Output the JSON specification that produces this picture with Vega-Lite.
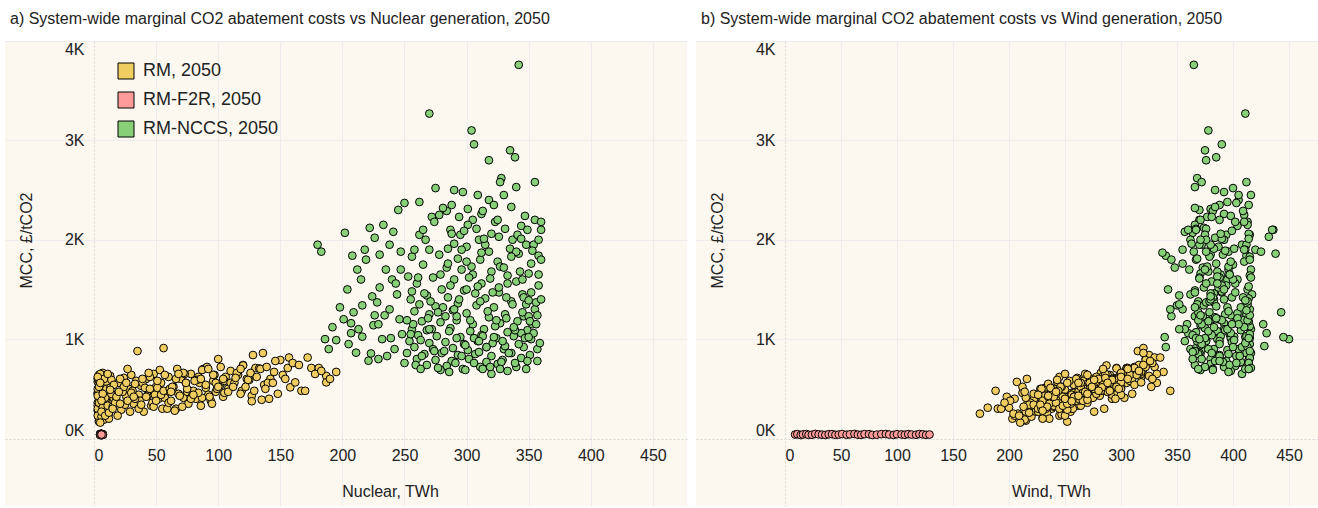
{
  "$schema": "https://vega.github.io/schema/vega-lite/v6.json",
  "background": "white",
  "padding": {"left": 5, "top": 11, "right": 0, "bottom": 2},
  "spacing": 9,
  "config": {
    "font": "Liberation Sans",
    "view": {"fill": "#fcf8f0", "stroke": null},
    "title": {"anchor": "start", "frame": "group", "fontSize": 16, "fontWeight": "normal", "color": "#222", "dx": 5, "offset": 14, "baseline": "bottom"},
    "axis": {
      "domain": false, "ticks": false, "grid": true,
      "gridColor": {"condition": {"test": "datum.value === 0", "value": "#d6d6d6"}, "value": "#ececec"},
      "gridDash": {"condition": {"test": "datum.value === 0", "value": [2, 2]}, "value": []},
      "labelFontSize": 16, "labelColor": "#222", "labelFlush": false,
      "titleFontSize": 16, "titleFontWeight": "normal", "titleColor": "#222"
    }
  },
  "resolve": {"scale": {"x": "independent", "y": "independent"}, "legend": {"color": "independent"}},
  "datasets": {
    "pts": [
      {"scenario":"RM, 2050","nuclear":4,"wind":215,"mcc":180},
      {"scenario":"RM, 2050","nuclear":5,"wind":230,"mcc":210},
      {"scenario":"RM, 2050","nuclear":6,"wind":208,"mcc":250},
      {"scenario":"RM, 2050","nuclear":3,"wind":222,"mcc":280},
      {"scenario":"RM, 2050","nuclear":7,"wind":245,"mcc":230},
      {"scenario":"RM, 2050","nuclear":4,"wind":200,"mcc":310},
      {"scenario":"RM, 2050","nuclear":8,"wind":238,"mcc":300},
      {"scenario":"RM, 2050","nuclear":5,"wind":255,"mcc":270},
      {"scenario":"RM, 2050","nuclear":9,"wind":216,"mcc":340},
      {"scenario":"RM, 2050","nuclear":6,"wind":262,"mcc":330},
      {"scenario":"RM, 2050","nuclear":3,"wind":230,"mcc":360},
      {"scenario":"RM, 2050","nuclear":10,"wind":248,"mcc":380},
      {"scenario":"RM, 2050","nuclear":5,"wind":205,"mcc":400},
      {"scenario":"RM, 2050","nuclear":7,"wind":270,"mcc":360},
      {"scenario":"RM, 2050","nuclear":4,"wind":225,"mcc":420},
      {"scenario":"RM, 2050","nuclear":11,"wind":258,"mcc":410},
      {"scenario":"RM, 2050","nuclear":6,"wind":240,"mcc":440},
      {"scenario":"RM, 2050","nuclear":8,"wind":276,"mcc":430},
      {"scenario":"RM, 2050","nuclear":3,"wind":212,"mcc":460},
      {"scenario":"RM, 2050","nuclear":9,"wind":265,"mcc":470},
      {"scenario":"RM, 2050","nuclear":5,"wind":250,"mcc":490},
      {"scenario":"RM, 2050","nuclear":12,"wind":283,"mcc":480},
      {"scenario":"RM, 2050","nuclear":7,"wind":232,"mcc":510},
      {"scenario":"RM, 2050","nuclear":4,"wind":270,"mcc":520},
      {"scenario":"RM, 2050","nuclear":10,"wind":292,"mcc":500},
      {"scenario":"RM, 2050","nuclear":6,"wind":258,"mcc":540},
      {"scenario":"RM, 2050","nuclear":8,"wind":288,"mcc":550},
      {"scenario":"RM, 2050","nuclear":3,"wind":243,"mcc":570},
      {"scenario":"RM, 2050","nuclear":11,"wind":300,"mcc":580},
      {"scenario":"RM, 2050","nuclear":5,"wind":275,"mcc":600},
      {"scenario":"RM, 2050","nuclear":9,"wind":310,"mcc":620},
      {"scenario":"RM, 2050","nuclear":4,"wind":285,"mcc":640},
      {"scenario":"RM, 2050","nuclear":7,"wind":262,"mcc":590},
      {"scenario":"RM, 2050","nuclear":6,"wind":296,"mcc":540},
      {"scenario":"RM, 2050","nuclear":3,"wind":218,"mcc":330},
      {"scenario":"RM, 2050","nuclear":10,"wind":234,"mcc":260},
      {"scenario":"RM, 2050","nuclear":8,"wind":252,"mcc":350},
      {"scenario":"RM, 2050","nuclear":12,"wind":268,"mcc":400},
      {"scenario":"RM, 2050","nuclear":5,"wind":226,"mcc":290},
      {"scenario":"RM, 2050","nuclear":9,"wind":280,"mcc":450},
      {"scenario":"RM, 2050","nuclear":4,"wind":247,"mcc":240},
      {"scenario":"RM, 2050","nuclear":7,"wind":290,"mcc":610},
      {"scenario":"RM, 2050","nuclear":11,"wind":240,"mcc":320},
      {"scenario":"RM, 2050","nuclear":13,"wind":305,"mcc":560},
      {"scenario":"RM, 2050","nuclear":6,"wind":271,"mcc":480},
      {"scenario":"RM, 2050","nuclear":3,"wind":190,"mcc":300},
      {"scenario":"RM, 2050","nuclear":5,"wind":198,"mcc":420},
      {"scenario":"RM, 2050","nuclear":8,"wind":212,"mcc":520},
      {"scenario":"RM, 2050","nuclear":4,"wind":236,"mcc":200},
      {"scenario":"RM, 2050","nuclear":9,"wind":256,"mcc":300},
      {"scenario":"RM, 2050","nuclear":6,"wind":174,"mcc":250},
      {"scenario":"RM, 2050","nuclear":9,"wind":181,"mcc":310},
      {"scenario":"RM, 2050","nuclear":5,"wind":188,"mcc":480},
      {"scenario":"RM, 2050","nuclear":12,"wind":193,"mcc":300},
      {"scenario":"RM, 2050","nuclear":7,"wind":203,"mcc":200},
      {"scenario":"RM, 2050","nuclear":14,"wind":207,"mcc":570},
      {"scenario":"RM, 2050","nuclear":3,"wind":216,"mcc":600},
      {"scenario":"RM, 2050","nuclear":4,"wind":245,"mcc":620},
      {"scenario":"RM, 2050","nuclear":6,"wind":228,"mcc":500},
      {"scenario":"RM, 2050","nuclear":10,"wind":222,"mcc":390},
      {"scenario":"RM, 2050","nuclear":3,"wind":260,"mcc":450},
      {"scenario":"RM, 2050","nuclear":8,"wind":266,"mcc":580},
      {"scenario":"RM, 2050","nuclear":5,"wind":240,"mcc":350},
      {"scenario":"RM, 2050","nuclear":11,"wind":215,"mcc":270},
      {"scenario":"RM, 2050","nuclear":7,"wind":282,"mcc":660},
      {"scenario":"RM, 2050","nuclear":4,"wind":252,"mcc":170},
      {"scenario":"RM, 2050","nuclear":9,"wind":235,"mcc":550},
      {"scenario":"RM, 2050","nuclear":3,"wind":205,"mcc":230},
      {"scenario":"RM, 2050","nuclear":4,"wind":219,"mcc":360},
      {"scenario":"RM, 2050","nuclear":5,"wind":233,"mcc":440},
      {"scenario":"RM, 2050","nuclear":6,"wind":247,"mcc":520},
      {"scenario":"RM, 2050","nuclear":7,"wind":261,"mcc":610},
      {"scenario":"RM, 2050","nuclear":8,"wind":214,"mcc":190},
      {"scenario":"RM, 2050","nuclear":9,"wind":228,"mcc":280},
      {"scenario":"RM, 2050","nuclear":10,"wind":242,"mcc":370},
      {"scenario":"RM, 2050","nuclear":11,"wind":256,"mcc":460},
      {"scenario":"RM, 2050","nuclear":12,"wind":270,"mcc":550},
      {"scenario":"RM, 2050","nuclear":13,"wind":284,"mcc":630},
      {"scenario":"RM, 2050","nuclear":3,"wind":240,"mcc":500},
      {"scenario":"RM, 2050","nuclear":4,"wind":254,"mcc":580},
      {"scenario":"RM, 2050","nuclear":5,"wind":268,"mcc":650},
      {"scenario":"RM, 2050","nuclear":6,"wind":220,"mcc":220},
      {"scenario":"RM, 2050","nuclear":7,"wind":234,"mcc":310},
      {"scenario":"RM, 2050","nuclear":8,"wind":248,"mcc":400},
      {"scenario":"RM, 2050","nuclear":9,"wind":262,"mcc":490},
      {"scenario":"RM, 2050","nuclear":10,"wind":276,"mcc":570},
      {"scenario":"RM, 2050","nuclear":11,"wind":290,"mcc":640},
      {"scenario":"RM, 2050","nuclear":12,"wind":204,"mcc":250},
      {"scenario":"RM, 2050","nuclear":13,"wind":218,"mcc":340},
      {"scenario":"RM, 2050","nuclear":3,"wind":232,"mcc":430},
      {"scenario":"RM, 2050","nuclear":4,"wind":246,"mcc":520},
      {"scenario":"RM, 2050","nuclear":5,"wind":210,"mcc":160},
      {"scenario":"RM, 2050","nuclear":6,"wind":224,"mcc":270},
      {"scenario":"RM, 2050","nuclear":7,"wind":238,"mcc":380},
      {"scenario":"RM, 2050","nuclear":8,"wind":300,"mcc":600},
      {"scenario":"RM, 2050","nuclear":9,"wind":215,"mcc":410},
      {"scenario":"RM, 2050","nuclear":10,"wind":229,"mcc":500},
      {"scenario":"RM, 2050","nuclear":14,"wind":243,"mcc":590},
      {"scenario":"RM, 2050","nuclear":14,"wind":257,"mcc":300},
      {"scenario":"RM, 2050","nuclear":12,"wind":230,"mcc":200},
      {"scenario":"RM, 2050","nuclear":3,"wind":278,"mcc":620},
      {"scenario":"RM, 2050","nuclear":5,"wind":286,"mcc":560},
      {"scenario":"RM, 2050","nuclear":7,"wind":222,"mcc":450},
      {"scenario":"RM, 2050","nuclear":9,"wind":250,"mcc":230},
      {"scenario":"RM, 2050","nuclear":11,"wind":264,"mcc":330},
      {"scenario":"RM, 2050","nuclear":13,"wind":292,"mcc":510},
      {"scenario":"RM, 2050","nuclear":6,"wind":201,"mcc":380},
      {"scenario":"RM, 2050","nuclear":12,"wind":218,"mcc":260},
      {"scenario":"RM, 2050","nuclear":15,"wind":245,"mcc":320},
      {"scenario":"RM, 2050","nuclear":14,"wind":262,"mcc":450},
      {"scenario":"RM, 2050","nuclear":18,"wind":230,"mcc":380},
      {"scenario":"RM, 2050","nuclear":20,"wind":280,"mcc":560},
      {"scenario":"RM, 2050","nuclear":22,"wind":252,"mcc":290},
      {"scenario":"RM, 2050","nuclear":24,"wind":296,"mcc":610},
      {"scenario":"RM, 2050","nuclear":26,"wind":235,"mcc":420},
      {"scenario":"RM, 2050","nuclear":28,"wind":270,"mcc":500},
      {"scenario":"RM, 2050","nuclear":30,"wind":288,"mcc":640},
      {"scenario":"RM, 2050","nuclear":32,"wind":247,"mcc":350},
      {"scenario":"RM, 2050","nuclear":34,"wind":300,"mcc":580},
      {"scenario":"RM, 2050","nuclear":35,"wind":315,"mcc":880},
      {"scenario":"RM, 2050","nuclear":36,"wind":258,"mcc":440},
      {"scenario":"RM, 2050","nuclear":38,"wind":276,"mcc":530},
      {"scenario":"RM, 2050","nuclear":40,"wind":226,"mcc":270},
      {"scenario":"RM, 2050","nuclear":42,"wind":292,"mcc":600},
      {"scenario":"RM, 2050","nuclear":44,"wind":264,"mcc":470},
      {"scenario":"RM, 2050","nuclear":46,"wind":240,"mcc":330},
      {"scenario":"RM, 2050","nuclear":48,"wind":305,"mcc":650},
      {"scenario":"RM, 2050","nuclear":50,"wind":272,"mcc":520},
      {"scenario":"RM, 2050","nuclear":52,"wind":250,"mcc":400},
      {"scenario":"RM, 2050","nuclear":54,"wind":286,"mcc":560},
      {"scenario":"RM, 2050","nuclear":55,"wind":233,"mcc":300},
      {"scenario":"RM, 2050","nuclear":56,"wind":320,"mcc":910},
      {"scenario":"RM, 2050","nuclear":58,"wind":262,"mcc":460},
      {"scenario":"RM, 2050","nuclear":60,"wind":298,"mcc":620},
      {"scenario":"RM, 2050","nuclear":16,"wind":283,"mcc":540},
      {"scenario":"RM, 2050","nuclear":19,"wind":209,"mcc":230},
      {"scenario":"RM, 2050","nuclear":25,"wind":222,"mcc":340},
      {"scenario":"RM, 2050","nuclear":31,"wind":268,"mcc":480},
      {"scenario":"RM, 2050","nuclear":37,"wind":243,"mcc":380},
      {"scenario":"RM, 2050","nuclear":43,"wind":281,"mcc":430},
      {"scenario":"RM, 2050","nuclear":47,"wind":255,"mcc":360},
      {"scenario":"RM, 2050","nuclear":53,"wind":310,"mcc":690},
      {"scenario":"RM, 2050","nuclear":57,"wind":275,"mcc":410},
      {"scenario":"RM, 2050","nuclear":13,"wind":238,"mcc":490},
      {"scenario":"RM, 2050","nuclear":21,"wind":260,"mcc":600},
      {"scenario":"RM, 2050","nuclear":27,"wind":305,"mcc":700},
      {"scenario":"RM, 2050","nuclear":33,"wind":292,"mcc":400},
      {"scenario":"RM, 2050","nuclear":39,"wind":252,"mcc":560},
      {"scenario":"RM, 2050","nuclear":45,"wind":318,"mcc":620},
      {"scenario":"RM, 2050","nuclear":49,"wind":226,"mcc":440},
      {"scenario":"RM, 2050","nuclear":51,"wind":300,"mcc":510},
      {"scenario":"RM, 2050","nuclear":59,"wind":285,"mcc":300},
      {"scenario":"RM, 2050","nuclear":17,"wind":196,"mcc":360},
      {"scenario":"RM, 2050","nuclear":23,"wind":214,"mcc":470},
      {"scenario":"RM, 2050","nuclear":29,"wind":276,"mcc":270},
      {"scenario":"RM, 2050","nuclear":41,"wind":237,"mcc":510},
      {"scenario":"RM, 2050","nuclear":11,"wind":250,"mcc":650},
      {"scenario":"RM, 2050","nuclear":15,"wind":226,"mcc":300},
      {"scenario":"RM, 2050","nuclear":18,"wind":250,"mcc":420},
      {"scenario":"RM, 2050","nuclear":21,"wind":236,"mcc":350},
      {"scenario":"RM, 2050","nuclear":24,"wind":266,"mcc":520},
      {"scenario":"RM, 2050","nuclear":27,"wind":244,"mcc":380},
      {"scenario":"RM, 2050","nuclear":30,"wind":258,"mcc":460},
      {"scenario":"RM, 2050","nuclear":33,"wind":276,"mcc":550},
      {"scenario":"RM, 2050","nuclear":36,"wind":229,"mcc":300},
      {"scenario":"RM, 2050","nuclear":39,"wind":288,"mcc":600},
      {"scenario":"RM, 2050","nuclear":42,"wind":248,"mcc":420},
      {"scenario":"RM, 2050","nuclear":45,"wind":270,"mcc":500},
      {"scenario":"RM, 2050","nuclear":48,"wind":234,"mcc":320},
      {"scenario":"RM, 2050","nuclear":51,"wind":282,"mcc":580},
      {"scenario":"RM, 2050","nuclear":54,"wind":256,"mcc":440},
      {"scenario":"RM, 2050","nuclear":57,"wind":300,"mcc":640},
      {"scenario":"RM, 2050","nuclear":60,"wind":242,"mcc":360},
      {"scenario":"RM, 2050","nuclear":20,"wind":262,"mcc":470},
      {"scenario":"RM, 2050","nuclear":26,"wind":280,"mcc":560},
      {"scenario":"RM, 2050","nuclear":32,"wind":240,"mcc":420},
      {"scenario":"RM, 2050","nuclear":38,"wind":228,"mcc":340},
      {"scenario":"RM, 2050","nuclear":44,"wind":300,"mcc":660},
      {"scenario":"RM, 2050","nuclear":50,"wind":262,"mcc":380},
      {"scenario":"RM, 2050","nuclear":56,"wind":244,"mcc":480},
      {"scenario":"RM, 2050","nuclear":62,"wind":260,"mcc":380},
      {"scenario":"RM, 2050","nuclear":64,"wind":290,"mcc":520},
      {"scenario":"RM, 2050","nuclear":66,"wind":245,"mcc":300},
      {"scenario":"RM, 2050","nuclear":68,"wind":278,"mcc":450},
      {"scenario":"RM, 2050","nuclear":70,"wind":305,"mcc":600},
      {"scenario":"RM, 2050","nuclear":72,"wind":268,"mcc":410},
      {"scenario":"RM, 2050","nuclear":74,"wind":295,"mcc":560},
      {"scenario":"RM, 2050","nuclear":76,"wind":255,"mcc":350},
      {"scenario":"RM, 2050","nuclear":78,"wind":312,"mcc":650},
      {"scenario":"RM, 2050","nuclear":80,"wind":284,"mcc":480},
      {"scenario":"RM, 2050","nuclear":82,"wind":262,"mcc":400},
      {"scenario":"RM, 2050","nuclear":84,"wind":300,"mcc":620},
      {"scenario":"RM, 2050","nuclear":86,"wind":248,"mcc":330},
      {"scenario":"RM, 2050","nuclear":88,"wind":318,"mcc":700},
      {"scenario":"RM, 2050","nuclear":90,"wind":276,"mcc":510},
      {"scenario":"RM, 2050","nuclear":92,"wind":292,"mcc":440},
      {"scenario":"RM, 2050","nuclear":94,"wind":266,"mcc":380},
      {"scenario":"RM, 2050","nuclear":96,"wind":308,"mcc":580},
      {"scenario":"RM, 2050","nuclear":98,"wind":288,"mcc":470},
      {"scenario":"RM, 2050","nuclear":100,"wind":322,"mcc":800},
      {"scenario":"RM, 2050","nuclear":102,"wind":280,"mcc":550},
      {"scenario":"RM, 2050","nuclear":104,"wind":258,"mcc":420},
      {"scenario":"RM, 2050","nuclear":106,"wind":300,"mcc":620},
      {"scenario":"RM, 2050","nuclear":108,"wind":285,"mcc":500},
      {"scenario":"RM, 2050","nuclear":110,"wind":314,"mcc":680},
      {"scenario":"RM, 2050","nuclear":65,"wind":230,"mcc":280},
      {"scenario":"RM, 2050","nuclear":75,"wind":242,"mcc":470},
      {"scenario":"RM, 2050","nuclear":85,"wind":272,"mcc":560},
      {"scenario":"RM, 2050","nuclear":95,"wind":252,"mcc":350},
      {"scenario":"RM, 2050","nuclear":105,"wind":297,"mcc":460},
      {"scenario":"RM, 2050","nuclear":67,"wind":320,"mcc":700},
      {"scenario":"RM, 2050","nuclear":79,"wind":235,"mcc":430},
      {"scenario":"RM, 2050","nuclear":91,"wind":330,"mcc":720},
      {"scenario":"RM, 2050","nuclear":71,"wind":213,"mcc":320},
      {"scenario":"RM, 2050","nuclear":83,"wind":282,"mcc":590},
      {"scenario":"RM, 2050","nuclear":97,"wind":270,"mcc":640},
      {"scenario":"RM, 2050","nuclear":61,"wind":300,"mcc":500},
      {"scenario":"RM, 2050","nuclear":73,"wind":286,"mcc":650},
      {"scenario":"RM, 2050","nuclear":87,"wind":303,"mcc":410},
      {"scenario":"RM, 2050","nuclear":101,"wind":264,"mcc":520},
      {"scenario":"RM, 2050","nuclear":63,"wind":276,"mcc":520},
      {"scenario":"RM, 2050","nuclear":66,"wind":292,"mcc":600},
      {"scenario":"RM, 2050","nuclear":69,"wind":260,"mcc":430},
      {"scenario":"RM, 2050","nuclear":72,"wind":306,"mcc":660},
      {"scenario":"RM, 2050","nuclear":75,"wind":272,"mcc":500},
      {"scenario":"RM, 2050","nuclear":78,"wind":250,"mcc":400},
      {"scenario":"RM, 2050","nuclear":81,"wind":294,"mcc":580},
      {"scenario":"RM, 2050","nuclear":84,"wind":266,"mcc":460},
      {"scenario":"RM, 2050","nuclear":87,"wind":310,"mcc":690},
      {"scenario":"RM, 2050","nuclear":90,"wind":284,"mcc":540},
      {"scenario":"RM, 2050","nuclear":93,"wind":258,"mcc":420},
      {"scenario":"RM, 2050","nuclear":96,"wind":300,"mcc":640},
      {"scenario":"RM, 2050","nuclear":99,"wind":276,"mcc":500},
      {"scenario":"RM, 2050","nuclear":102,"wind":312,"mcc":720},
      {"scenario":"RM, 2050","nuclear":105,"wind":290,"mcc":580},
      {"scenario":"RM, 2050","nuclear":108,"wind":268,"mcc":470},
      {"scenario":"RM, 2050","nuclear":62,"wind":288,"mcc":470},
      {"scenario":"RM, 2050","nuclear":68,"wind":318,"mcc":650},
      {"scenario":"RM, 2050","nuclear":74,"wind":264,"mcc":560},
      {"scenario":"RM, 2050","nuclear":80,"wind":300,"mcc":440},
      {"scenario":"RM, 2050","nuclear":86,"wind":280,"mcc":600},
      {"scenario":"RM, 2050","nuclear":92,"wind":316,"mcc":700},
      {"scenario":"RM, 2050","nuclear":98,"wind":262,"mcc":560},
      {"scenario":"RM, 2050","nuclear":104,"wind":310,"mcc":600},
      {"scenario":"RM, 2050","nuclear":110,"wind":296,"mcc":560},
      {"scenario":"RM, 2050","nuclear":113,"wind":290,"mcc":560},
      {"scenario":"RM, 2050","nuclear":116,"wind":308,"mcc":640},
      {"scenario":"RM, 2050","nuclear":119,"wind":282,"mcc":480},
      {"scenario":"RM, 2050","nuclear":120,"wind":316,"mcc":740},
      {"scenario":"RM, 2050","nuclear":123,"wind":298,"mcc":600},
      {"scenario":"RM, 2050","nuclear":125,"wind":276,"mcc":590},
      {"scenario":"RM, 2050","nuclear":127,"wind":262,"mcc":430},
      {"scenario":"RM, 2050","nuclear":128,"wind":325,"mcc":840},
      {"scenario":"RM, 2050","nuclear":130,"wind":305,"mcc":710},
      {"scenario":"RM, 2050","nuclear":127,"wind":256,"mcc":375},
      {"scenario":"RM, 2050","nuclear":135,"wind":270,"mcc":390},
      {"scenario":"RM, 2050","nuclear":136,"wind":320,"mcc":860},
      {"scenario":"RM, 2050","nuclear":137,"wind":312,"mcc":540},
      {"scenario":"RM, 2050","nuclear":141,"wind":295,"mcc":400},
      {"scenario":"RM, 2050","nuclear":142,"wind":302,"mcc":600},
      {"scenario":"RM, 2050","nuclear":145,"wind":318,"mcc":670},
      {"scenario":"RM, 2050","nuclear":150,"wind":322,"mcc":790},
      {"scenario":"RM, 2050","nuclear":156,"wind":296,"mcc":710},
      {"scenario":"RM, 2050","nuclear":158,"wind":283,"mcc":515},
      {"scenario":"RM, 2050","nuclear":162,"wind":300,"mcc":565},
      {"scenario":"RM, 2050","nuclear":157,"wind":330,"mcc":815},
      {"scenario":"RM, 2050","nuclear":167,"wind":290,"mcc":480},
      {"scenario":"RM, 2050","nuclear":172,"wind":335,"mcc":815},
      {"scenario":"RM, 2050","nuclear":175,"wind":312,"mcc":710},
      {"scenario":"RM, 2050","nuclear":181,"wind":306,"mcc":710},
      {"scenario":"RM, 2050","nuclear":187,"wind":325,"mcc":630},
      {"scenario":"RM, 2050","nuclear":195,"wind":338,"mcc":670},
      {"scenario":"RM, 2050","nuclear":187,"wind":318,"mcc":565},
      {"scenario":"RM, 2050","nuclear":120,"wind":287,"mcc":735},
      {"scenario":"RM, 2050","nuclear":133,"wind":296,"mcc":705},
      {"scenario":"RM, 2050","nuclear":134,"wind":284,"mcc":700},
      {"scenario":"RM, 2050","nuclear":124,"wind":292,"mcc":590},
      {"scenario":"RM, 2050","nuclear":115,"wind":300,"mcc":660},
      {"scenario":"RM, 2050","nuclear":112,"wind":274,"mcc":520},
      {"scenario":"RM, 2050","nuclear":148,"wind":310,"mcc":450},
      {"scenario":"RM, 2050","nuclear":160,"wind":328,"mcc":760},
      {"scenario":"RM, 2050","nuclear":170,"wind":344,"mcc":480},
      {"scenario":"RM, 2050","nuclear":140,"wind":332,"mcc":560},
      {"scenario":"RM, 2050","nuclear":100,"wind":327,"mcc":520},
      {"scenario":"RM, 2050","nuclear":114,"wind":286,"mcc":610},
      {"scenario":"RM, 2050","nuclear":118,"wind":306,"mcc":700},
      {"scenario":"RM, 2050","nuclear":122,"wind":296,"mcc":520},
      {"scenario":"RM, 2050","nuclear":126,"wind":316,"mcc":660},
      {"scenario":"RM, 2050","nuclear":131,"wind":300,"mcc":620},
      {"scenario":"RM, 2050","nuclear":139,"wind":322,"mcc":720},
      {"scenario":"RM, 2050","nuclear":144,"wind":288,"mcc":560},
      {"scenario":"RM, 2050","nuclear":146,"wind":326,"mcc":780},
      {"scenario":"RM, 2050","nuclear":152,"wind":314,"mcc":640},
      {"scenario":"RM, 2050","nuclear":154,"wind":306,"mcc":600},
      {"scenario":"RM, 2050","nuclear":165,"wind":320,"mcc":740},
      {"scenario":"RM, 2050","nuclear":178,"wind":332,"mcc":650},
      {"scenario":"RM, 2050","nuclear":183,"wind":316,"mcc":680},
      {"scenario":"RM, 2050","nuclear":190,"wind":328,"mcc":600},
      {"scenario":"RM, 2050","nuclear":118,"wind":270,"mcc":450},
      {"scenario":"RM, 2050","nuclear":129,"wind":280,"mcc":480},
      {"scenario":"RM, 2050","nuclear":138,"wind":298,"mcc":500},
      {"scenario":"RM-F2R, 2050","nuclear":6,"wind":9,"mcc":40},
      {"scenario":"RM-F2R, 2050","nuclear":5,"wind":11,"mcc":44},
      {"scenario":"RM-F2R, 2050","nuclear":5,"wind":14,"mcc":35},
      {"scenario":"RM-F2R, 2050","nuclear":6,"wind":16,"mcc":41},
      {"scenario":"RM-F2R, 2050","nuclear":6,"wind":19,"mcc":45},
      {"scenario":"RM-F2R, 2050","nuclear":7,"wind":21,"mcc":37},
      {"scenario":"RM-F2R, 2050","nuclear":7,"wind":24,"mcc":38},
      {"scenario":"RM-F2R, 2050","nuclear":6,"wind":27,"mcc":46},
      {"scenario":"RM-F2R, 2050","nuclear":6,"wind":30,"mcc":42},
      {"scenario":"RM-F2R, 2050","nuclear":5,"wind":33,"mcc":39},
      {"scenario":"RM-F2R, 2050","nuclear":5,"wind":36,"mcc":36},
      {"scenario":"RM-F2R, 2050","nuclear":6,"wind":39,"mcc":43},
      {"scenario":"RM-F2R, 2050","nuclear":6,"wind":42,"mcc":44},
      {"scenario":"RM-F2R, 2050","nuclear":7,"wind":45,"mcc":37},
      {"scenario":"RM-F2R, 2050","nuclear":7,"wind":48,"mcc":40},
      {"scenario":"RM-F2R, 2050","nuclear":6,"wind":51,"mcc":45},
      {"scenario":"RM-F2R, 2050","nuclear":6,"wind":55,"mcc":38},
      {"scenario":"RM-F2R, 2050","nuclear":5,"wind":58,"mcc":42},
      {"scenario":"RM-F2R, 2050","nuclear":5,"wind":62,"mcc":46},
      {"scenario":"RM-F2R, 2050","nuclear":6,"wind":65,"mcc":39},
      {"scenario":"RM-F2R, 2050","nuclear":6,"wind":68,"mcc":37},
      {"scenario":"RM-F2R, 2050","nuclear":7,"wind":71,"mcc":44},
      {"scenario":"RM-F2R, 2050","nuclear":7,"wind":75,"mcc":43},
      {"scenario":"RM-F2R, 2050","nuclear":6,"wind":78,"mcc":36},
      {"scenario":"RM-F2R, 2050","nuclear":6,"wind":82,"mcc":39},
      {"scenario":"RM-F2R, 2050","nuclear":5,"wind":86,"mcc":44},
      {"scenario":"RM-F2R, 2050","nuclear":5,"wind":90,"mcc":45},
      {"scenario":"RM-F2R, 2050","nuclear":6,"wind":93,"mcc":40},
      {"scenario":"RM-F2R, 2050","nuclear":6,"wind":97,"mcc":36},
      {"scenario":"RM-F2R, 2050","nuclear":7,"wind":100,"mcc":43},
      {"scenario":"RM-F2R, 2050","nuclear":7,"wind":104,"mcc":41},
      {"scenario":"RM-F2R, 2050","nuclear":6,"wind":107,"mcc":38},
      {"scenario":"RM-F2R, 2050","nuclear":6,"wind":110,"mcc":44},
      {"scenario":"RM-F2R, 2050","nuclear":5,"wind":113,"mcc":40},
      {"scenario":"RM-F2R, 2050","nuclear":5,"wind":117,"mcc":38},
      {"scenario":"RM-F2R, 2050","nuclear":6,"wind":120,"mcc":45},
      {"scenario":"RM-F2R, 2050","nuclear":6,"wind":123,"mcc":42},
      {"scenario":"RM-F2R, 2050","nuclear":7,"wind":126,"mcc":37},
      {"scenario":"RM-F2R, 2050","nuclear":6,"wind":129,"mcc":40},
      {"scenario":"RM-NCCS, 2050","nuclear":342,"wind":365,"mcc":3760},
      {"scenario":"RM-NCCS, 2050","nuclear":270,"wind":411,"mcc":3270},
      {"scenario":"RM-NCCS, 2050","nuclear":304,"wind":378,"mcc":3100},
      {"scenario":"RM-NCCS, 2050","nuclear":306,"wind":390,"mcc":2960},
      {"scenario":"RM-NCCS, 2050","nuclear":335,"wind":375,"mcc":2900},
      {"scenario":"RM-NCCS, 2050","nuclear":318,"wind":376,"mcc":2800},
      {"scenario":"RM-NCCS, 2050","nuclear":339,"wind":385,"mcc":2830},
      {"scenario":"RM-NCCS, 2050","nuclear":328,"wind":368,"mcc":2620},
      {"scenario":"RM-NCCS, 2050","nuclear":327,"wind":372,"mcc":2580},
      {"scenario":"RM-NCCS, 2050","nuclear":355,"wind":412,"mcc":2580},
      {"scenario":"RM-NCCS, 2050","nuclear":275,"wind":400,"mcc":2520},
      {"scenario":"RM-NCCS, 2050","nuclear":290,"wind":384,"mcc":2500},
      {"scenario":"RM-NCCS, 2050","nuclear":297,"wind":392,"mcc":2480},
      {"scenario":"RM-NCCS, 2050","nuclear":340,"wind":366,"mcc":2530},
      {"scenario":"RM-NCCS, 2050","nuclear":262,"wind":395,"mcc":2380},
      {"scenario":"RM-NCCS, 2050","nuclear":318,"wind":405,"mcc":2400},
      {"scenario":"RM-NCCS, 2050","nuclear":322,"wind":414,"mcc":2350},
      {"scenario":"RM-NCCS, 2050","nuclear":301,"wind":380,"mcc":2310},
      {"scenario":"RM-NCCS, 2050","nuclear":284,"wind":382,"mcc":2290},
      {"scenario":"RM-NCCS, 2050","nuclear":245,"wind":370,"mcc":2300},
      {"scenario":"RM-NCCS, 2050","nuclear":250,"wind":403,"mcc":2370},
      {"scenario":"RM-NCCS, 2050","nuclear":312,"wind":392,"mcc":2260},
      {"scenario":"RM-NCCS, 2050","nuclear":347,"wind":398,"mcc":2240},
      {"scenario":"RM-NCCS, 2050","nuclear":355,"wind":388,"mcc":2200},
      {"scenario":"RM-NCCS, 2050","nuclear":360,"wind":413,"mcc":2180},
      {"scenario":"RM-NCCS, 2050","nuclear":305,"wind":370,"mcc":2200},
      {"scenario":"RM-NCCS, 2050","nuclear":272,"wind":377,"mcc":2230},
      {"scenario":"RM-NCCS, 2050","nuclear":233,"wind":366,"mcc":2150},
      {"scenario":"RM-NCCS, 2050","nuclear":222,"wind":374,"mcc":2120},
      {"scenario":"RM-NCCS, 2050","nuclear":241,"wind":357,"mcc":2080},
      {"scenario":"RM-NCCS, 2050","nuclear":202,"wind":364,"mcc":2070},
      {"scenario":"RM-NCCS, 2050","nuclear":287,"wind":360,"mcc":2100},
      {"scenario":"RM-NCCS, 2050","nuclear":331,"wind":376,"mcc":2110},
      {"scenario":"RM-NCCS, 2050","nuclear":344,"wind":404,"mcc":2140},
      {"scenario":"RM-NCCS, 2050","nuclear":262,"wind":394,"mcc":2050},
      {"scenario":"RM-NCCS, 2050","nuclear":295,"wind":415,"mcc":2050},
      {"scenario":"RM-NCCS, 2050","nuclear":310,"wind":362,"mcc":2000},
      {"scenario":"RM-NCCS, 2050","nuclear":360,"wind":436,"mcc":2100},
      {"scenario":"RM-NCCS, 2050","nuclear":326,"wind":432,"mcc":2030},
      {"scenario":"RM-NCCS, 2050","nuclear":180,"wind":372,"mcc":1950},
      {"scenario":"RM-NCCS, 2050","nuclear":183,"wind":365,"mcc":1880},
      {"scenario":"RM-NCCS, 2050","nuclear":238,"wind":370,"mcc":1950},
      {"scenario":"RM-NCCS, 2050","nuclear":226,"wind":384,"mcc":2020},
      {"scenario":"RM-NCCS, 2050","nuclear":208,"wind":340,"mcc":1840},
      {"scenario":"RM-NCCS, 2050","nuclear":219,"wind":345,"mcc":1800},
      {"scenario":"RM-NCCS, 2050","nuclear":230,"wind":380,"mcc":1850},
      {"scenario":"RM-NCCS, 2050","nuclear":358,"wind":412,"mcc":1840},
      {"scenario":"RM-NCCS, 2050","nuclear":270,"wind":355,"mcc":1900},
      {"scenario":"RM-NCCS, 2050","nuclear":290,"wind":363,"mcc":1960},
      {"scenario":"RM-NCCS, 2050","nuclear":300,"wind":387,"mcc":1930},
      {"scenario":"RM-NCCS, 2050","nuclear":318,"wind":396,"mcc":1880},
      {"scenario":"RM-NCCS, 2050","nuclear":335,"wind":401,"mcc":1910},
      {"scenario":"RM-NCCS, 2050","nuclear":348,"wind":408,"mcc":1950},
      {"scenario":"RM-NCCS, 2050","nuclear":256,"wind":379,"mcc":1830},
      {"scenario":"RM-NCCS, 2050","nuclear":278,"wind":391,"mcc":1850},
      {"scenario":"RM-NCCS, 2050","nuclear":311,"wind":367,"mcc":1800},
      {"scenario":"RM-NCCS, 2050","nuclear":325,"wind":410,"mcc":1780},
      {"scenario":"RM-NCCS, 2050","nuclear":342,"wind":438,"mcc":1860},
      {"scenario":"RM-NCCS, 2050","nuclear":352,"wind":385,"mcc":1760},
      {"scenario":"RM-NCCS, 2050","nuclear":265,"wind":400,"mcc":1750},
      {"scenario":"RM-NCCS, 2050","nuclear":284,"wind":373,"mcc":1720},
      {"scenario":"RM-NCCS, 2050","nuclear":296,"wind":416,"mcc":1700},
      {"scenario":"RM-NCCS, 2050","nuclear":247,"wind":396,"mcc":1700},
      {"scenario":"RM-NCCS, 2050","nuclear":235,"wind":361,"mcc":1700},
      {"scenario":"RM-NCCS, 2050","nuclear":215,"wind":393,"mcc":1600},
      {"scenario":"RM-NCCS, 2050","nuclear":240,"wind":404,"mcc":1600},
      {"scenario":"RM-NCCS, 2050","nuclear":305,"wind":389,"mcc":1650},
      {"scenario":"RM-NCCS, 2050","nuclear":320,"wind":378,"mcc":1680},
      {"scenario":"RM-NCCS, 2050","nuclear":333,"wind":415,"mcc":1640},
      {"scenario":"RM-NCCS, 2050","nuclear":350,"wind":371,"mcc":1660},
      {"scenario":"RM-NCCS, 2050","nuclear":273,"wind":370,"mcc":1620},
      {"scenario":"RM-NCCS, 2050","nuclear":290,"wind":395,"mcc":1600},
      {"scenario":"RM-NCCS, 2050","nuclear":260,"wind":386,"mcc":1560},
      {"scenario":"RM-NCCS, 2050","nuclear":230,"wind":374,"mcc":1520},
      {"scenario":"RM-NCCS, 2050","nuclear":312,"wind":402,"mcc":1560},
      {"scenario":"RM-NCCS, 2050","nuclear":340,"wind":381,"mcc":1580},
      {"scenario":"RM-NCCS, 2050","nuclear":358,"wind":394,"mcc":1540},
      {"scenario":"RM-NCCS, 2050","nuclear":280,"wind":413,"mcc":1500},
      {"scenario":"RM-NCCS, 2050","nuclear":298,"wind":366,"mcc":1490},
      {"scenario":"RM-NCCS, 2050","nuclear":244,"wind":362,"mcc":1450},
      {"scenario":"RM-NCCS, 2050","nuclear":326,"wind":390,"mcc":1470},
      {"scenario":"RM-NCCS, 2050","nuclear":345,"wind":417,"mcc":1450},
      {"scenario":"RM-NCCS, 2050","nuclear":268,"wind":352,"mcc":1440},
      {"scenario":"RM-NCCS, 2050","nuclear":255,"wind":383,"mcc":1400},
      {"scenario":"RM-NCCS, 2050","nuclear":285,"wind":399,"mcc":1420},
      {"scenario":"RM-NCCS, 2050","nuclear":315,"wind":414,"mcc":1410},
      {"scenario":"RM-NCCS, 2050","nuclear":336,"wind":369,"mcc":1380},
      {"scenario":"RM-NCCS, 2050","nuclear":228,"wind":383,"mcc":1370},
      {"scenario":"RM-NCCS, 2050","nuclear":226,"wind":398,"mcc":1240},
      {"scenario":"RM-NCCS, 2050","nuclear":216,"wind":350,"mcc":1340},
      {"scenario":"RM-NCCS, 2050","nuclear":209,"wind":379,"mcc":1270},
      {"scenario":"RM-NCCS, 2050","nuclear":201,"wind":387,"mcc":1200},
      {"scenario":"RM-NCCS, 2050","nuclear":207,"wind":392,"mcc":1160},
      {"scenario":"RM-NCCS, 2050","nuclear":225,"wind":371,"mcc":1140},
      {"scenario":"RM-NCCS, 2050","nuclear":207,"wind":360,"mcc":1060},
      {"scenario":"RM-NCCS, 2050","nuclear":216,"wind":401,"mcc":1025},
      {"scenario":"RM-NCCS, 2050","nuclear":195,"wind":376,"mcc":990},
      {"scenario":"RM-NCCS, 2050","nuclear":189,"wind":362,"mcc":900},
      {"scenario":"RM-NCCS, 2050","nuclear":211,"wind":366,"mcc":864},
      {"scenario":"RM-NCCS, 2050","nuclear":221,"wind":389,"mcc":783},
      {"scenario":"RM-NCCS, 2050","nuclear":223,"wind":371,"mcc":856},
      {"scenario":"RM-NCCS, 2050","nuclear":238,"wind":355,"mcc":1300},
      {"scenario":"RM-NCCS, 2050","nuclear":246,"wind":381,"mcc":1200},
      {"scenario":"RM-NCCS, 2050","nuclear":248,"wind":397,"mcc":1050},
      {"scenario":"RM-NCCS, 2050","nuclear":242,"wind":372,"mcc":900},
      {"scenario":"RM-NCCS, 2050","nuclear":236,"wind":415,"mcc":830},
      {"scenario":"RM-NCCS, 2050","nuclear":250,"wind":405,"mcc":760},
      {"scenario":"RM-NCCS, 2050","nuclear":232,"wind":386,"mcc":1000},
      {"scenario":"RM-NCCS, 2050","nuclear":262,"wind":368,"mcc":1350},
      {"scenario":"RM-NCCS, 2050","nuclear":275,"wind":385,"mcc":1330},
      {"scenario":"RM-NCCS, 2050","nuclear":293,"wind":412,"mcc":1360},
      {"scenario":"RM-NCCS, 2050","nuclear":308,"wind":374,"mcc":1340},
      {"scenario":"RM-NCCS, 2050","nuclear":322,"wind":395,"mcc":1320},
      {"scenario":"RM-NCCS, 2050","nuclear":348,"wind":352,"mcc":1350},
      {"scenario":"RM-NCCS, 2050","nuclear":355,"wind":415,"mcc":1300},
      {"scenario":"RM-NCCS, 2050","nuclear":258,"wind":408,"mcc":1280},
      {"scenario":"RM-NCCS, 2050","nuclear":270,"wind":393,"mcc":1250},
      {"scenario":"RM-NCCS, 2050","nuclear":283,"wind":366,"mcc":1230},
      {"scenario":"RM-NCCS, 2050","nuclear":300,"wind":404,"mcc":1260},
      {"scenario":"RM-NCCS, 2050","nuclear":318,"wind":384,"mcc":1220},
      {"scenario":"RM-NCCS, 2050","nuclear":331,"wind":412,"mcc":1250},
      {"scenario":"RM-NCCS, 2050","nuclear":346,"wind":370,"mcc":1230},
      {"scenario":"RM-NCCS, 2050","nuclear":264,"wind":377,"mcc":1180},
      {"scenario":"RM-NCCS, 2050","nuclear":279,"wind":414,"mcc":1170},
      {"scenario":"RM-NCCS, 2050","nuclear":292,"wind":390,"mcc":1190},
      {"scenario":"RM-NCCS, 2050","nuclear":305,"wind":359,"mcc":1150},
      {"scenario":"RM-NCCS, 2050","nuclear":327,"wind":401,"mcc":1160},
      {"scenario":"RM-NCCS, 2050","nuclear":341,"wind":378,"mcc":1180},
      {"scenario":"RM-NCCS, 2050","nuclear":353,"wind":427,"mcc":1150},
      {"scenario":"RM-NCCS, 2050","nuclear":256,"wind":392,"mcc":1100},
      {"scenario":"RM-NCCS, 2050","nuclear":268,"wind":407,"mcc":1090},
      {"scenario":"RM-NCCS, 2050","nuclear":287,"wind":375,"mcc":1110},
      {"scenario":"RM-NCCS, 2050","nuclear":303,"wind":386,"mcc":1080},
      {"scenario":"RM-NCCS, 2050","nuclear":314,"wind":416,"mcc":1100},
      {"scenario":"RM-NCCS, 2050","nuclear":333,"wind":367,"mcc":1070},
      {"scenario":"RM-NCCS, 2050","nuclear":349,"wind":395,"mcc":1090},
      {"scenario":"RM-NCCS, 2050","nuclear":261,"wind":364,"mcc":1040},
      {"scenario":"RM-NCCS, 2050","nuclear":276,"wind":389,"mcc":1030},
      {"scenario":"RM-NCCS, 2050","nuclear":295,"wind":411,"mcc":1020},
      {"scenario":"RM-NCCS, 2050","nuclear":312,"wind":381,"mcc":1040},
      {"scenario":"RM-NCCS, 2050","nuclear":324,"wind":398,"mcc":1010},
      {"scenario":"RM-NCCS, 2050","nuclear":338,"wind":414,"mcc":1030},
      {"scenario":"RM-NCCS, 2050","nuclear":352,"wind":450,"mcc":1000},
      {"scenario":"RM-NCCS, 2050","nuclear":254,"wind":376,"mcc":980},
      {"scenario":"RM-NCCS, 2050","nuclear":270,"wind":372,"mcc":960},
      {"scenario":"RM-NCCS, 2050","nuclear":283,"wind":399,"mcc":970},
      {"scenario":"RM-NCCS, 2050","nuclear":298,"wind":415,"mcc":950},
      {"scenario":"RM-NCCS, 2050","nuclear":309,"wind":388,"mcc":980},
      {"scenario":"RM-NCCS, 2050","nuclear":321,"wind":370,"mcc":960},
      {"scenario":"RM-NCCS, 2050","nuclear":344,"wind":430,"mcc":1060},
      {"scenario":"RM-NCCS, 2050","nuclear":357,"wind":405,"mcc":900},
      {"scenario":"RM-NCCS, 2050","nuclear":258,"wind":408,"mcc":920},
      {"scenario":"RM-NCCS, 2050","nuclear":273,"wind":383,"mcc":900},
      {"scenario":"RM-NCCS, 2050","nuclear":289,"wind":367,"mcc":910},
      {"scenario":"RM-NCCS, 2050","nuclear":301,"wind":395,"mcc":890},
      {"scenario":"RM-NCCS, 2050","nuclear":316,"wind":413,"mcc":920},
      {"scenario":"RM-NCCS, 2050","nuclear":330,"wind":378,"mcc":900},
      {"scenario":"RM-NCCS, 2050","nuclear":346,"wind":340,"mcc":920},
      {"scenario":"RM-NCCS, 2050","nuclear":252,"wind":370,"mcc":860},
      {"scenario":"RM-NCCS, 2050","nuclear":266,"wind":396,"mcc":850},
      {"scenario":"RM-NCCS, 2050","nuclear":280,"wind":412,"mcc":860},
      {"scenario":"RM-NCCS, 2050","nuclear":293,"wind":385,"mcc":840},
      {"scenario":"RM-NCCS, 2050","nuclear":307,"wind":369,"mcc":850},
      {"scenario":"RM-NCCS, 2050","nuclear":320,"wind":403,"mcc":830},
      {"scenario":"RM-NCCS, 2050","nuclear":336,"wind":416,"mcc":860},
      {"scenario":"RM-NCCS, 2050","nuclear":351,"wind":388,"mcc":840},
      {"scenario":"RM-NCCS, 2050","nuclear":260,"wind":380,"mcc":800},
      {"scenario":"RM-NCCS, 2050","nuclear":275,"wind":414,"mcc":790},
      {"scenario":"RM-NCCS, 2050","nuclear":288,"wind":394,"mcc":780},
      {"scenario":"RM-NCCS, 2050","nuclear":302,"wind":372,"mcc":800},
      {"scenario":"RM-NCCS, 2050","nuclear":316,"wind":407,"mcc":770},
      {"scenario":"RM-NCCS, 2050","nuclear":329,"wind":386,"mcc":790},
      {"scenario":"RM-NCCS, 2050","nuclear":344,"wind":415,"mcc":810},
      {"scenario":"RM-NCCS, 2050","nuclear":268,"wind":366,"mcc":740},
      {"scenario":"RM-NCCS, 2050","nuclear":284,"wind":402,"mcc":730},
      {"scenario":"RM-NCCS, 2050","nuclear":297,"wind":414,"mcc":700},
      {"scenario":"RM-NCCS, 2050","nuclear":311,"wind":392,"mcc":720},
      {"scenario":"RM-NCCS, 2050","nuclear":325,"wind":380,"mcc":750},
      {"scenario":"RM-NCCS, 2050","nuclear":340,"wind":412,"mcc":720},
      {"scenario":"RM-NCCS, 2050","nuclear":320,"wind":408,"mcc":650},
      {"scenario":"RM-NCCS, 2050","nuclear":279,"wind":371,"mcc":690},
      {"scenario":"RM-NCCS, 2050","nuclear":333,"wind":398,"mcc":680},
      {"scenario":"RM-NCCS, 2050","nuclear":306,"wind":414,"mcc":760},
      {"scenario":"RM-NCCS, 2050","nuclear":292,"wind":375,"mcc":1010},
      {"scenario":"RM-NCCS, 2050","nuclear":256,"wind":390,"mcc":1480},
      {"scenario":"RM-NCCS, 2050","nuclear":315,"wind":412,"mcc":1950},
      {"scenario":"RM-NCCS, 2050","nuclear":337,"wind":392,"mcc":2000},
      {"scenario":"RM-NCCS, 2050","nuclear":301,"wind":413,"mcc":2150},
      {"scenario":"RM-NCCS, 2050","nuclear":345,"wind":443,"mcc":1270},
      {"scenario":"RM-NCCS, 2050","nuclear":331,"wind":428,"mcc":930},
      {"scenario":"RM-NCCS, 2050","nuclear":350,"wind":345,"mcc":1230},
      {"scenario":"RM-NCCS, 2050","nuclear":312,"wind":337,"mcc":1870},
      {"scenario":"RM-NCCS, 2050","nuclear":285,"wind":355,"mcc":1760},
      {"scenario":"RM-NCCS, 2050","nuclear":296,"wind":420,"mcc":1900},
      {"scenario":"RM-NCCS, 2050","nuclear":322,"wind":445,"mcc":1020},
      {"scenario":"RM-NCCS, 2050","nuclear":265,"wind":435,"mcc":2100},
      {"scenario":"RM-NCCS, 2050","nuclear":340,"wind":425,"mcc":1880},
      {"scenario":"RM-NCCS, 2050","nuclear":278,"wind":410,"mcc":2250},
      {"scenario":"RM-NCCS, 2050","nuclear":309,"wind":416,"mcc":2450},
      {"scenario":"RM-NCCS, 2050","nuclear":288,"wind":388,"mcc":2350},
      {"scenario":"RM-NCCS, 2050","nuclear":257,"wind":372,"mcc":1150},
      {"scenario":"RM-NCCS, 2050","nuclear":263,"wind":401,"mcc":990},
      {"scenario":"RM-NCCS, 2050","nuclear":269,"wind":385,"mcc":1210},
      {"scenario":"RM-NCCS, 2050","nuclear":274,"wind":366,"mcc":880},
      {"scenario":"RM-NCCS, 2050","nuclear":281,"wind":407,"mcc":1320},
      {"scenario":"RM-NCCS, 2050","nuclear":286,"wind":378,"mcc":1080},
      {"scenario":"RM-NCCS, 2050","nuclear":291,"wind":414,"mcc":760},
      {"scenario":"RM-NCCS, 2050","nuclear":294,"wind":392,"mcc":1400},
      {"scenario":"RM-NCCS, 2050","nuclear":299,"wind":371,"mcc":940},
      {"scenario":"RM-NCCS, 2050","nuclear":303,"wind":409,"mcc":1190},
      {"scenario":"RM-NCCS, 2050","nuclear":307,"wind":383,"mcc":1460},
      {"scenario":"RM-NCCS, 2050","nuclear":310,"wind":364,"mcc":870},
      {"scenario":"RM-NCCS, 2050","nuclear":313,"wind":412,"mcc":1030},
      {"scenario":"RM-NCCS, 2050","nuclear":317,"wind":396,"mcc":1280},
      {"scenario":"RM-NCCS, 2050","nuclear":319,"wind":375,"mcc":720},
      {"scenario":"RM-NCCS, 2050","nuclear":323,"wind":415,"mcc":1130},
      {"scenario":"RM-NCCS, 2050","nuclear":326,"wind":387,"mcc":1520},
      {"scenario":"RM-NCCS, 2050","nuclear":329,"wind":368,"mcc":980},
      {"scenario":"RM-NCCS, 2050","nuclear":332,"wind":404,"mcc":1210},
      {"scenario":"RM-NCCS, 2050","nuclear":334,"wind":381,"mcc":860},
      {"scenario":"RM-NCCS, 2050","nuclear":337,"wind":413,"mcc":1350},
      {"scenario":"RM-NCCS, 2050","nuclear":339,"wind":393,"mcc":1090},
      {"scenario":"RM-NCCS, 2050","nuclear":342,"wind":372,"mcc":950},
      {"scenario":"RM-NCCS, 2050","nuclear":346,"wind":409,"mcc":1420},
      {"scenario":"RM-NCCS, 2050","nuclear":349,"wind":384,"mcc":780},
      {"scenario":"RM-NCCS, 2050","nuclear":351,"wind":414,"mcc":1180},
      {"scenario":"RM-NCCS, 2050","nuclear":354,"wind":398,"mcc":1060},
      {"scenario":"RM-NCCS, 2050","nuclear":356,"wind":376,"mcc":1370},
      {"scenario":"RM-NCCS, 2050","nuclear":359,"wind":411,"mcc":960},
      {"scenario":"RM-NCCS, 2050","nuclear":261,"wind":416,"mcc":1620},
      {"scenario":"RM-NCCS, 2050","nuclear":266,"wind":380,"mcc":1460},
      {"scenario":"RM-NCCS, 2050","nuclear":272,"wind":395,"mcc":1100},
      {"scenario":"RM-NCCS, 2050","nuclear":277,"wind":369,"mcc":1270},
      {"scenario":"RM-NCCS, 2050","nuclear":282,"wind":415,"mcc":880},
      {"scenario":"RM-NCCS, 2050","nuclear":287,"wind":390,"mcc":1540},
      {"scenario":"RM-NCCS, 2050","nuclear":292,"wind":373,"mcc":1230},
      {"scenario":"RM-NCCS, 2050","nuclear":296,"wind":406,"mcc":830},
      {"scenario":"RM-NCCS, 2050","nuclear":302,"wind":388,"mcc":1620},
      {"scenario":"RM-NCCS, 2050","nuclear":306,"wind":415,"mcc":1010},
      {"scenario":"RM-NCCS, 2050","nuclear":311,"wind":379,"mcc":1380},
      {"scenario":"RM-NCCS, 2050","nuclear":316,"wind":400,"mcc":920},
      {"scenario":"RM-NCCS, 2050","nuclear":321,"wind":366,"mcc":1470},
      {"scenario":"RM-NCCS, 2050","nuclear":324,"wind":413,"mcc":1190},
      {"scenario":"RM-NCCS, 2050","nuclear":328,"wind":391,"mcc":770},
      {"scenario":"RM-NCCS, 2050","nuclear":333,"wind":376,"mcc":1560},
      {"scenario":"RM-NCCS, 2050","nuclear":338,"wind":410,"mcc":1120},
      {"scenario":"RM-NCCS, 2050","nuclear":343,"wind":386,"mcc":1680},
      {"scenario":"RM-NCCS, 2050","nuclear":347,"wind":367,"mcc":1010},
      {"scenario":"RM-NCCS, 2050","nuclear":352,"wind":402,"mcc":1470},
      {"scenario":"RM-NCCS, 2050","nuclear":357,"wind":415,"mcc":1240},
      {"scenario":"RM-NCCS, 2050","nuclear":264,"wind":388,"mcc":830},
      {"scenario":"RM-NCCS, 2050","nuclear":271,"wind":413,"mcc":1380},
      {"scenario":"RM-NCCS, 2050","nuclear":279,"wind":397,"mcc":1650},
      {"scenario":"RM-NCCS, 2050","nuclear":285,"wind":383,"mcc":1910},
      {"scenario":"RM-NCCS, 2050","nuclear":289,"wind":412,"mcc":1290},
      {"scenario":"RM-NCCS, 2050","nuclear":293,"wind":368,"mcc":1810},
      {"scenario":"RM-NCCS, 2050","nuclear":298,"wind":399,"mcc":2090},
      {"scenario":"RM-NCCS, 2050","nuclear":304,"wind":377,"mcc":1730},
      {"scenario":"RM-NCCS, 2050","nuclear":309,"wind":414,"mcc":1530},
      {"scenario":"RM-NCCS, 2050","nuclear":314,"wind":390,"mcc":2010},
      {"scenario":"RM-NCCS, 2050","nuclear":319,"wind":370,"mcc":1610},
      {"scenario":"RM-NCCS, 2050","nuclear":323,"wind":410,"mcc":2180},
      {"scenario":"RM-NCCS, 2050","nuclear":327,"wind":396,"mcc":1730},
      {"scenario":"RM-NCCS, 2050","nuclear":332,"wind":382,"mcc":1420},
      {"scenario":"RM-NCCS, 2050","nuclear":336,"wind":415,"mcc":1830},
      {"scenario":"RM-NCCS, 2050","nuclear":341,"wind":375,"mcc":2050},
      {"scenario":"RM-NCCS, 2050","nuclear":345,"wind":400,"mcc":1600},
      {"scenario":"RM-NCCS, 2050","nuclear":350,"wind":411,"mcc":1390},
      {"scenario":"RM-NCCS, 2050","nuclear":354,"wind":380,"mcc":1950},
      {"scenario":"RM-NCCS, 2050","nuclear":358,"wind":397,"mcc":1650},
      {"scenario":"RM-NCCS, 2050","nuclear":267,"wind":376,"mcc":2000},
      {"scenario":"RM-NCCS, 2050","nuclear":274,"wind":402,"mcc":2180},
      {"scenario":"RM-NCCS, 2050","nuclear":281,"wind":366,"mcc":2320},
      {"scenario":"RM-NCCS, 2050","nuclear":288,"wind":414,"mcc":2060},
      {"scenario":"RM-NCCS, 2050","nuclear":294,"wind":381,"mcc":2230},
      {"scenario":"RM-NCCS, 2050","nuclear":300,"wind":398,"mcc":1780},
      {"scenario":"RM-NCCS, 2050","nuclear":308,"wind":367,"mcc":2110},
      {"scenario":"RM-NCCS, 2050","nuclear":313,"wind":409,"mcc":2290},
      {"scenario":"RM-NCCS, 2050","nuclear":320,"wind":389,"mcc":2060},
      {"scenario":"RM-NCCS, 2050","nuclear":325,"wind":371,"mcc":2200},
      {"scenario":"RM-NCCS, 2050","nuclear":330,"wind":405,"mcc":2450},
      {"scenario":"RM-NCCS, 2050","nuclear":336,"wind":384,"mcc":2330},
      {"scenario":"RM-NCCS, 2050","nuclear":344,"wind":414,"mcc":2010},
      {"scenario":"RM-NCCS, 2050","nuclear":349,"wind":367,"mcc":2100},
      {"scenario":"RM-NCCS, 2050","nuclear":353,"wind":393,"mcc":1890},
      {"scenario":"RM-NCCS, 2050","nuclear":258,"wind":411,"mcc":1900},
      {"scenario":"RM-NCCS, 2050","nuclear":253,"wind":386,"mcc":1630},
      {"scenario":"RM-NCCS, 2050","nuclear":252,"wind":369,"mcc":1190},
      {"scenario":"RM-NCCS, 2050","nuclear":255,"wind":415,"mcc":1050},
      {"scenario":"RM-NCCS, 2050","nuclear":259,"wind":397,"mcc":740},
      {"scenario":"RM-NCCS, 2050","nuclear":263,"wind":382,"mcc":700},
      {"scenario":"RM-NCCS, 2050","nuclear":277,"wind":416,"mcc":710},
      {"scenario":"RM-NCCS, 2050","nuclear":286,"wind":396,"mcc":670},
      {"scenario":"RM-NCCS, 2050","nuclear":299,"wind":382,"mcc":690},
      {"scenario":"RM-NCCS, 2050","nuclear":313,"wind":411,"mcc":700},
      {"scenario":"RM-NCCS, 2050","nuclear":327,"wind":369,"mcc":700},
      {"scenario":"RM-NCCS, 2050","nuclear":339,"wind":403,"mcc":760},
      {"scenario":"RM-NCCS, 2050","nuclear":348,"wind":414,"mcc":700},
      {"scenario":"RM-NCCS, 2050","nuclear":357,"wind":388,"mcc":780},
      {"scenario":"RM-NCCS, 2050","nuclear":360,"wind":380,"mcc":1400},
      {"scenario":"RM-NCCS, 2050","nuclear":360,"wind":415,"mcc":1800},
      {"scenario":"RM-NCCS, 2050","nuclear":358,"wind":371,"mcc":2000},
      {"scenario":"RM-NCCS, 2050","nuclear":356,"wind":405,"mcc":1150},
      {"scenario":"RM-NCCS, 2050","nuclear":186,"wind":370,"mcc":1000},
      {"scenario":"RM-NCCS, 2050","nuclear":192,"wind":383,"mcc":1120},
      {"scenario":"RM-NCCS, 2050","nuclear":198,"wind":366,"mcc":1320},
      {"scenario":"RM-NCCS, 2050","nuclear":204,"wind":392,"mcc":1500},
      {"scenario":"RM-NCCS, 2050","nuclear":212,"wind":375,"mcc":1700},
      {"scenario":"RM-NCCS, 2050","nuclear":218,"wind":410,"mcc":1900},
      {"scenario":"RM-NCCS, 2050","nuclear":224,"wind":380,"mcc":1430},
      {"scenario":"RM-NCCS, 2050","nuclear":229,"wind":399,"mcc":1150},
      {"scenario":"RM-NCCS, 2050","nuclear":234,"wind":371,"mcc":1240},
      {"scenario":"RM-NCCS, 2050","nuclear":239,"wind":414,"mcc":1010},
      {"scenario":"RM-NCCS, 2050","nuclear":243,"wind":386,"mcc":1560},
      {"scenario":"RM-NCCS, 2050","nuclear":247,"wind":376,"mcc":1880},
      {"scenario":"RM-NCCS, 2050","nuclear":213,"wind":357,"mcc":1100},
      {"scenario":"RM-NCCS, 2050","nuclear":205,"wind":388,"mcc":950},
      {"scenario":"RM-NCCS, 2050","nuclear":229,"wind":364,"mcc":800},
      {"scenario":"RM-NCCS, 2050","nuclear":300,"wind":342,"mcc":1500},
      {"scenario":"RM-NCCS, 2050","nuclear":330,"wind":348,"mcc":1720},
      {"scenario":"RM-NCCS, 2050","nuclear":270,"wind":352,"mcc":1100},
      {"scenario":"RM-NCCS, 2050","nuclear":310,"wind":357,"mcc":980},
      {"scenario":"RM-NCCS, 2050","nuclear":290,"wind":344,"mcc":1300},
      {"scenario":"RM-NCCS, 2050","nuclear":350,"wind":339,"mcc":1020}
    ]
  },
  "hconcat": [
    {
      "width": 682,
      "height": 465,
      "title": {"text": "a) System-wide marginal CO2 abatement costs vs Nuclear generation, 2050"},
      "data": {"name": "pts"},
      "mark": {"type": "circle", "size": 60, "stroke": "black", "strokeWidth": 1, "opacity": 1},
      "encoding": {
        "x": {
          "field": "nuclear", "type": "quantitative",
          "scale": {"domain": [-71.7, 477.5], "nice": false, "zero": false},
          "axis": {
            "title": "Nuclear, TWh", "values": [0, 50, 100, 150, 200, 250, 300, 350, 400, 450],
            "offset": -67.5, "labelPadding": 9, "titlePadding": 20, "titleX": 385,
            "labelAlign": {"condition": {"test": "datum.value === 0", "value": "left"}, "value": "center"}
          }
        },
        "y": {
          "field": "mcc", "type": "quantitative",
          "scale": {"domain": [-679, 4000], "nice": false, "zero": false},
          "axis": {
            "title": "MCC, £/tCO2", "values": [0, 1000, 2000, 3000, 4000],
            "labelExpr": "(datum.value / 1000) + 'K'",
            "offset": -89, "labelPadding": 10, "titlePadding": 30, "titleY": 199,
            "labelBaseline": {"condition": [{"test": "datum.value === 4000", "value": "top"}, {"test": "datum.value === 0", "value": "bottom"}], "value": "middle"}
          }
        },
        "color": {
          "field": "scenario", "type": "nominal",
          "scale": {"domain": ["RM, 2050", "RM-F2R, 2050", "RM-NCCS, 2050"], "range": ["#f0cd60", "#ff9c99", "#88d078"]},
          "legend": {
            "orient": "none", "legendX": 112, "legendY": 21, "title": null, "padding": 0,
            "symbolType": "square", "symbolSize": 256, "symbolStrokeColor": "black", "symbolStrokeWidth": 1, "symbolOpacity": 1,
            "labelFontSize": 18, "labelColor": "#222", "labelOffset": 8, "rowPadding": 9
          }
        }
      }
    },
    {
      "width": 622,
      "height": 465,
      "title": {"text": "b) System-wide marginal CO2 abatement costs vs Wind generation, 2050"},
      "data": {"name": "pts"},
      "mark": {"type": "circle", "size": 60, "stroke": "black", "strokeWidth": 1, "opacity": 1},
      "encoding": {
        "x": {
          "field": "wind", "type": "quantitative",
          "scale": {"domain": [-79.5, 475.9], "nice": false, "zero": false},
          "axis": {
            "title": "Wind, TWh", "values": [0, 50, 100, 150, 200, 250, 300, 350, 400, 450],
            "offset": -67.5, "labelPadding": 9, "titlePadding": 20, "titleX": 355,
            "labelAlign": {"condition": {"test": "datum.value === 0", "value": "left"}, "value": "center"}
          }
        },
        "y": {
          "field": "mcc", "type": "quantitative",
          "scale": {"domain": [-679, 4000], "nice": false, "zero": false},
          "axis": {
            "title": "MCC, £/tCO2", "values": [0, 1000, 2000, 3000, 4000],
            "labelExpr": "(datum.value / 1000) + 'K'",
            "offset": -89, "labelPadding": 10, "titlePadding": 30, "titleY": 199,
            "labelBaseline": {"condition": [{"test": "datum.value === 4000", "value": "top"}, {"test": "datum.value === 0", "value": "bottom"}], "value": "middle"}
          }
        },
        "color": {
          "field": "scenario", "type": "nominal",
          "scale": {"domain": ["RM, 2050", "RM-F2R, 2050", "RM-NCCS, 2050"], "range": ["#f0cd60", "#ff9c99", "#88d078"]},
          "legend": null
        }
      }
    }
  ]
}
